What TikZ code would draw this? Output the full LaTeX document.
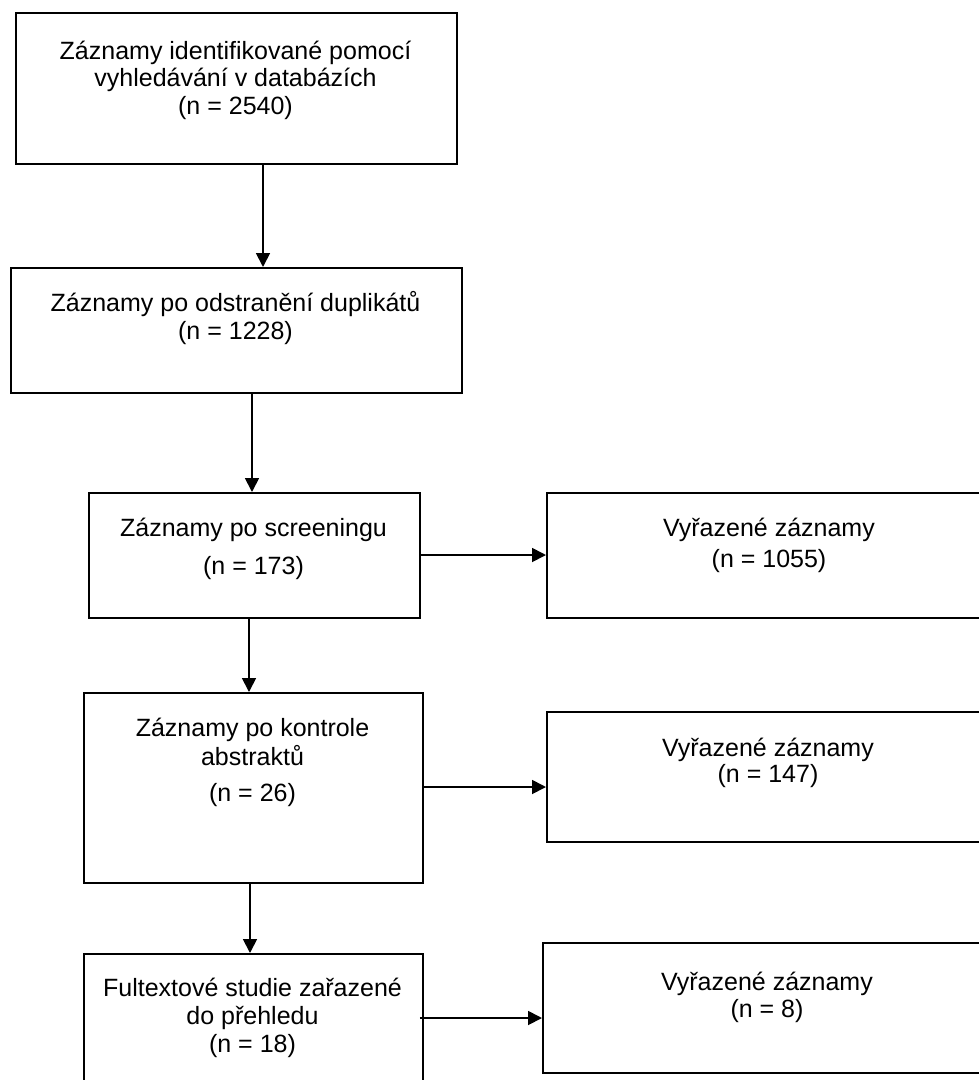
\documentclass[tikz,border=0pt]{standalone}
\usepackage{fontspec}
\setmainfont{Liberation Sans}
\usetikzlibrary{arrows.meta}
\begin{document}
\begin{tikzpicture}[x=1pt,y=-1pt,
  box/.style={draw=black,line width=1.8pt,anchor=north west,inner sep=0pt},
  tx/.style={anchor=base,inner sep=0pt,font=\fontsize{25}{28}\selectfont},
  arr/.style={draw=black,line width=1.8pt,-{Triangle[length=14pt,width=14pt]}}]
\useasboundingbox (0,0) rectangle (979,1080);
% boxes
\node[box,minimum width=441pt,minimum height=151pt] (b1) at (15,12) {};
\node[box,minimum width=451pt,minimum height=125pt] (b2) at (10,267) {};
\node[box,minimum width=331pt,minimum height=125pt] (b3) at (88,492) {};
\node[box,minimum width=446pt,minimum height=125pt] (b4) at (546,492) {};
\node[box,minimum width=339pt,minimum height=190pt] (b5) at (83,692) {};
\node[box,minimum width=446pt,minimum height=130pt] (b6) at (546,711) {};
\node[box,minimum width=339pt,minimum height=142pt] (b7) at (83,953) {};
\node[box,minimum width=450pt,minimum height=130pt] (b8) at (542,942) {};
% texts
\node[tx] (t1a) at (235.5,59) {Záznamy identifikované pomocí};
\node[tx] (t1b) at (235.5,86) {vyhledávání v databázích};
\node[tx] (t1c) at (235.5,114) {(n = 2540)};
\node[tx] (t2a) at (235.5,311) {Záznamy po odstranění duplikátů};
\node[tx] (t2b) at (235.5,339) {(n = 1228)};
\node[tx] (t3a) at (253.5,536) {Záznamy po screeningu};
\node[tx] (t3b) at (253.5,574) {(n = 173)};
\node[tx] (t4a) at (769,536) {Vyřazené záznamy};
\node[tx] (t4b) at (769,567) {(n = 1055)};
\node[tx] (t5a) at (252.5,736) {Záznamy po kontrole};
\node[tx] (t5b) at (252.5,765) {abstraktů};
\node[tx] (t5c) at (252.5,801) {(n = 26)};
\node[tx] (t6a) at (768,756) {Vyřazené záznamy};
\node[tx] (t6b) at (768,782) {(n = 147)};
\node[tx] (t7a) at (252.5,996) {Fultextové studie zařazené};
\node[tx] (t7b) at (252.5,1024) {do přehledu};
\node[tx] (t7c) at (252.5,1052) {(n = 18)};
\node[tx] (t8a) at (767,990) {Vyřazené záznamy};
\node[tx] (t8b) at (767,1017) {(n = 8)};
% connector guide coordinates
\coordinate (x1) at (263,0);
\coordinate (x2) at (252,0);
\coordinate (x3) at (249,0);
\coordinate (x4) at (250,0);
\coordinate (y3) at (0,555);
\coordinate (y5) at (0,787);
\coordinate (y7) at (0,1018);
% connectors
\draw[arr] (x1 |- b1.south) -- (x1 |- b2.north);
\draw[arr] (x2 |- b2.south) -- (x2 |- b3.north);
\draw[arr] (x3 |- b3.south) -- (x3 |- b5.north);
\draw[arr] (x4 |- b5.south) -- (x4 |- b7.north);
\draw[arr] (b3.east |- y3) -- (b4.west |- y3);
\draw[arr] (b5.east |- y5) -- (b6.west |- y5);
\draw[arr] ([xshift=-4pt]b7.east |- y7) -- (b8.west |- y7);
\end{tikzpicture}
\end{document}
